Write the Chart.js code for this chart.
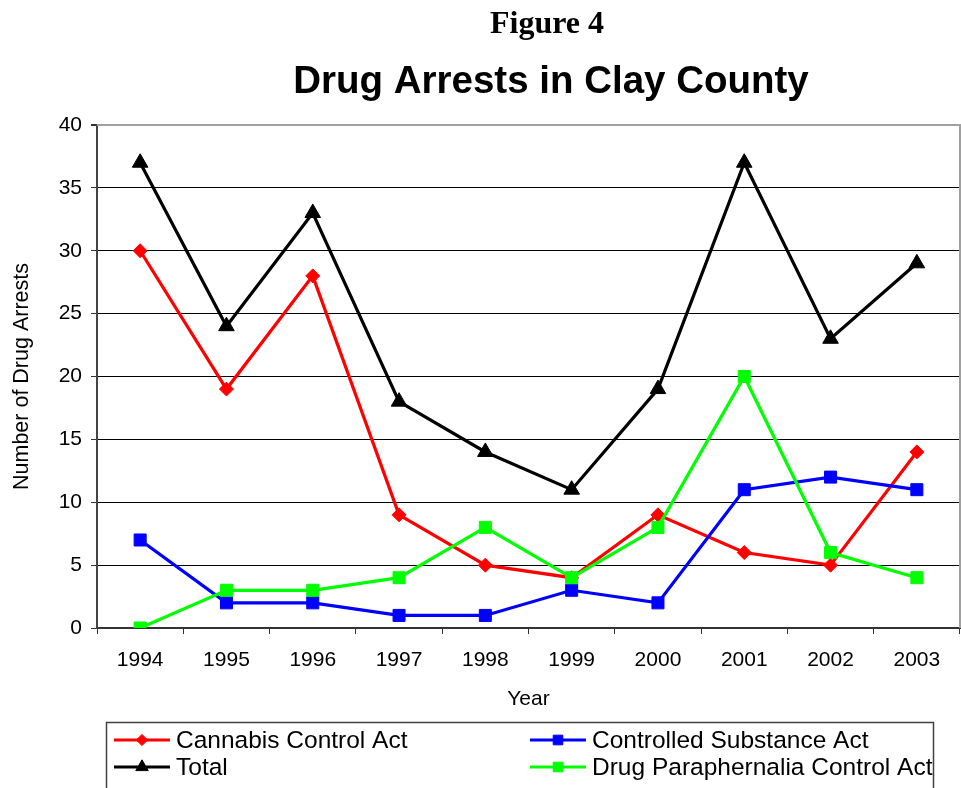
<!DOCTYPE html>
<html>
<head>
<meta charset="utf-8">
<title>Drug Arrests in Clay County</title>
<script src="https://cdn.jsdelivr.net/npm/chart.js@4/dist/chart.umd.min.js"></script>
<style>
  html, body { margin: 0; padding: 0; background: #ffffff; }
  #wrap { width: 961px; height: 788px; position: relative; }
</style>
</head>
<body>
<div id="wrap"><canvas id="chart" width="961" height="788"></canvas></div>
<script>
// Arrest counts by year, one list per statute
const years = ['1994', '1995', '1996', '1997', '1998', '1999', '2000', '2001', '2002', '2003'];
const cannabisControlAct = [30, 19, 28, 9, 5, 4, 9, 6, 5, 14];
const controlledSubstanceAct = [7, 2, 2, 1, 1, 3, 2, 11, 12, 11];
const totalArrests = [37, 24, 33, 18, 14, 11, 19, 37, 23, 29];
const drugParaphernaliaAct = [0, 3, 3, 4, 8, 4, 8, 20, 6, 4];
const yTickValues = [0, 5, 10, 15, 20, 25, 30, 35, 40];

const FONT = '"Liberation Sans", Arial, sans-serif';

function series(label, data, color, pointStyle, radius, order) {
  return {
    label, data, order, pointStyle,
    borderColor: color,
    backgroundColor: color,
    pointBackgroundColor: color,
    pointBorderColor: color,
    borderWidth: 3.2,
    pointRadius: radius,
    pointHoverRadius: radius,
    pointBorderWidth: 1,
    tension: 0,
    fill: false
  };
}

const datasets = [
  series('Cannabis Control Act', cannabisControlAct, '#ff0000', 'rectRot', 7, 4),
  series('Controlled Substance Act', controlledSubstanceAct, '#0000ff', 'rect', 8.5, 3),
  series('Total', totalArrests, '#000000', 'triangle', 9, 2),
  series('Drug Paraphernalia Control Act', drugParaphernaliaAct, '#00ff00', 'rect', 8.5, 1)
];

// Grey frame on the top and right of the plot area
const plotFrame = {
  id: 'plotFrame',
  beforeDatasetsDraw(chart) {
    const { ctx, chartArea: a } = chart;
    ctx.save();
    ctx.strokeStyle = '#a0a0a0';
    ctx.lineWidth = 2;
    ctx.beginPath();
    ctx.moveTo(a.left, a.top);
    ctx.lineTo(a.right, a.top);
    ctx.lineTo(a.right, a.bottom);
    ctx.stroke();
    ctx.restore();
  }
};

// Figure caption and chart heading
const headings = {
  id: 'headings',
  afterDraw(chart) {
    const { ctx } = chart;
    ctx.save();
    ctx.fillStyle = '#000';
    ctx.textAlign = 'center';
    ctx.textBaseline = 'middle';
    ctx.font = 'bold 32px "Liberation Serif", "Times New Roman", serif';
    ctx.fillText('Figure 4', 547, 25);
    ctx.font = 'bold 38.5px ' + FONT;
    ctx.fillText('Drug Arrests in Clay County', 551, 82);
    ctx.restore();
  }
};

function marker(ctx, ds, x, y, radius) {
  ctx.fillStyle = ds.pointBackgroundColor;
  ctx.strokeStyle = ds.pointBorderColor;
  ctx.lineWidth = 1;
  if (Chart.helpers && Chart.helpers.drawPoint) {
    Chart.helpers.drawPoint(ctx, { pointStyle: ds.pointStyle, radius, borderWidth: 1, rotation: 0 }, x, y);
    return;
  }
  ctx.beginPath();
  if (ds.pointStyle === 'triangle') {
    ctx.moveTo(x, y - radius);
    ctx.lineTo(x + radius * 0.866, y + radius * 0.5);
    ctx.lineTo(x - radius * 0.866, y + radius * 0.5);
  } else if (ds.pointStyle === 'rectRot') {
    ctx.moveTo(x, y - radius); ctx.lineTo(x + radius, y);
    ctx.lineTo(x, y + radius); ctx.lineTo(x - radius, y);
  } else {
    const s = radius * Math.SQRT1_2;
    ctx.rect(x - s, y - s, 2 * s, 2 * s);
  }
  ctx.closePath();
  ctx.fill();
  ctx.stroke();
}

// Two-column boxed legend under the x axis
const boxLegend = {
  id: 'boxLegend',
  afterDraw(chart) {
    const { ctx } = chart;
    const ds = chart.data.datasets;
    const slots = [
      { i: 0, col: 0, row: 0 }, { i: 1, col: 1, row: 0 },
      { i: 2, col: 0, row: 1 }, { i: 3, col: 1, row: 1 }
    ];
    const colX = [114, 530];
    const rowY = [740, 767];
    const lineLen = 56;
    ctx.save();
    ctx.strokeStyle = '#404040';
    ctx.lineWidth = 1.5;
    ctx.strokeRect(106.5, 722.5, 827, 100);
    ctx.font = '24.5px ' + FONT;
    ctx.textBaseline = 'middle';
    ctx.textAlign = 'left';
    slots.forEach(s => {
      const d = ds[s.i];
      const x0 = colX[s.col], y = rowY[s.row];
      ctx.strokeStyle = d.borderColor;
      ctx.lineWidth = 3;
      ctx.beginPath();
      ctx.moveTo(x0, y);
      ctx.lineTo(x0 + lineLen, y);
      ctx.stroke();
      marker(ctx, d, x0 + lineLen / 2, y, d.pointRadius * 0.8);
      ctx.fillStyle = '#000';
      ctx.fillText(d.label, x0 + lineLen + 6, y + 1);
    });
    ctx.restore();
  }
};

new Chart(document.getElementById('chart'), {
  type: 'line',
  data: { labels: years, datasets },
  plugins: [plotFrame, headings, boxLegend],
  options: {
    responsive: false,
    animation: false,
    layout: { autoPadding: false, padding: { top: 125, left: 0, right: 1, bottom: 0 } },
    plugins: {
      legend: { display: false },
      title: { display: false },
      tooltip: { enabled: false }
    },
    scales: {
      x: {
        offset: true,
        afterFit(scale) {
          scale.height = 160;
          scale.paddingLeft = 0;
          scale.paddingRight = 0;
        },
        grid: {
          offset: true,
          drawOnChartArea: false,
          tickLength: 6,
          tickColor: '#333'
        },
        border: { color: '#333', width: 2 },
        ticks: {
          color: '#000',
          padding: 14,
          maxRotation: 0,
          font: { family: FONT, size: 21 }
        },
        title: {
          display: true,
          text: 'Year',
          color: '#000',
          font: { family: FONT, size: 21 },
          padding: { top: 0, bottom: 76 }
        }
      },
      y: {
        min: 0,
        max: 40,
        afterFit(scale) { scale.width = 97; },
        afterBuildTicks(scale) { scale.ticks = yTickValues.map(v => ({ value: v })); },
        grid: {
          color: c => (c.tick && c.tick.value === 40 ? '#a0a0a0' : '#000'),
          lineWidth: c => (c.tick && c.tick.value === 40 ? 2 : 1),
          tickLength: 6,
          tickColor: '#333'
        },
        border: { color: '#444', width: 2 },
        ticks: {
          color: '#000',
          padding: 9,
          font: { family: FONT, size: 21 }
        },
        title: {
          display: true,
          text: 'Number of Drug Arrests',
          color: '#000',
          font: { family: FONT, size: 21.5 },
          padding: { top: 9, bottom: 0 }
        }
      }
    }
  }
});
</script>
</body>
</html>
